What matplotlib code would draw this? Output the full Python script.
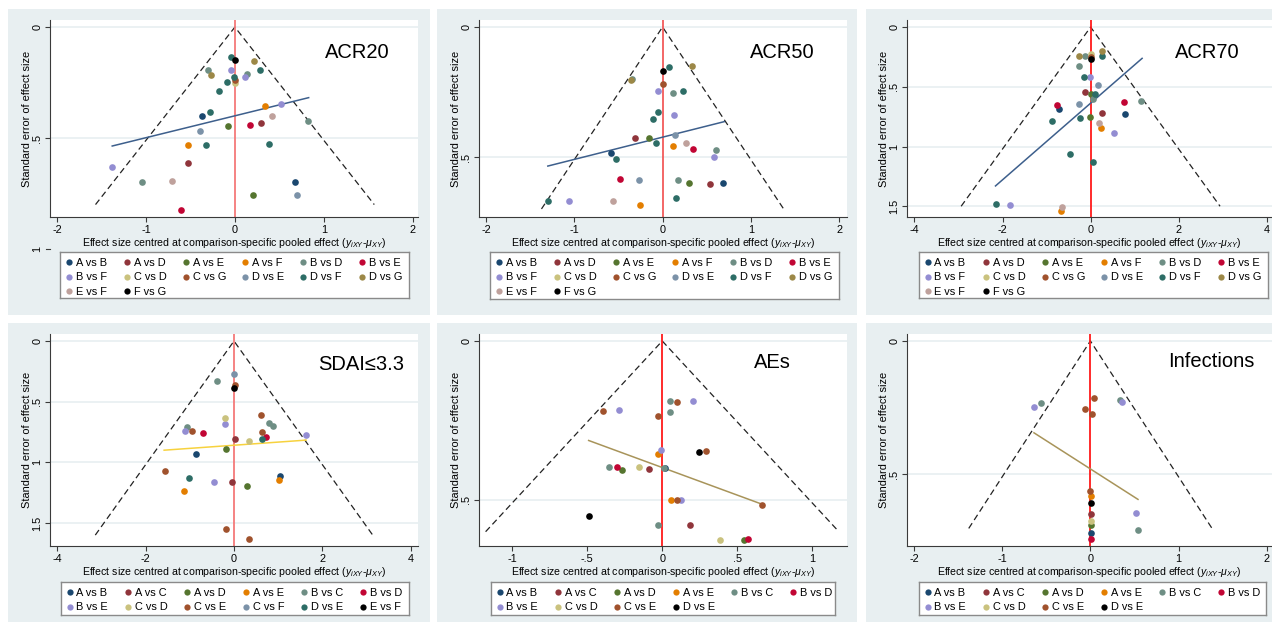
import matplotlib.pyplot as plt

plt.rcParams['font.family'] = ['Liberation Sans', 'DejaVu Sans']
plt.rcParams['axes.unicode_minus'] = False
plt.rcParams['mathtext.fontset'] = 'custom'
plt.rcParams['mathtext.it'] = 'Liberation Sans:italic'
plt.rcParams['mathtext.rm'] = 'Liberation Sans'

W, H = 1272, 624
BG = '#e8eff1'
palette = ['#1a476f', '#90353b', '#55752f', '#e37e00', '#6e8e84', '#c10534',
           '#938dd2', '#cac27e', '#a0522d', '#7b92a8', '#2d6d66', '#9c8847',
           '#bfa19c']

# ---------------- data ----------------
legend_14 = ['A vs B', 'A vs D', 'A vs E', 'A vs F', 'B vs D', 'B vs E', 'B vs F',
             'C vs D', 'C vs G', 'D vs E', 'D vs F', 'D vs G', 'E vs F', 'F vs G']
legend_12 = ['A vs B', 'A vs C', 'A vs D', 'A vs E', 'B vs C', 'B vs D', 'B vs E',
             'C vs D', 'C vs E', 'C vs F', 'D vs E', 'E vs F']
legend_10 = ['A vs B', 'A vs C', 'A vs D', 'A vs E', 'B vs C', 'B vs D', 'B vs E',
             'C vs D', 'C vs E', 'D vs E']

acr20_comp = ['D vs F', 'F vs G', 'D vs G', 'B vs D', 'D vs G', 'B vs F', 'D vs F',
              'B vs D', 'B vs F', 'D vs F', 'C vs G', 'C vs D', 'D vs F', 'D vs F',
              'A vs F', 'B vs F', 'D vs F', 'A vs B', 'E vs F', 'B vs E', 'A vs D',
              'A vs E', 'B vs D', 'D vs E', 'A vs F', 'D vs F', 'D vs F', 'B vs F',
              'A vs D', 'B vs D', 'E vs F', 'A vs B', 'A vs E', 'D vs E', 'B vs E']
acr20_x = [-0.045, 0.0, 0.214, -0.30, -0.267, -0.04, 0.28, 0.139, 0.116, -0.008,
           0.0, 0.0, -0.094, -0.184, 0.334, 0.522, -0.285, -0.375, 0.42, 0.169,
           0.289, -0.075, 0.826, -0.387, -0.522, -0.327, 0.379, -1.378, -0.526,
           -1.04, -0.709, 0.676, 0.199, 0.702, -0.608]
acr20_se = [0.135, 0.147, 0.152, 0.195, 0.215, 0.195, 0.192, 0.213, 0.227, 0.227,
            0.240, 0.252, 0.249, 0.290, 0.354, 0.347, 0.381, 0.402, 0.401, 0.441,
            0.432, 0.447, 0.423, 0.468, 0.533, 0.533, 0.527, 0.629, 0.613, 0.698,
            0.692, 0.698, 0.755, 0.755, 0.826]
acr20_fit_x = [-1.38, 0.83]
acr20_fit_se = [0.536, 0.318]

acr50_comp = ['D vs F', 'F vs G', 'D vs G', 'B vs D', 'D vs G', 'C vs G', 'B vs F',
              'B vs D', 'D vs F', 'D vs F', 'D vs F', 'B vs F', 'D vs E', 'A vs D',
              'A vs E', 'D vs F', 'A vs F', 'E vs F', 'B vs E', 'B vs D', 'B vs F',
              'A vs B', 'D vs F', 'B vs E', 'D vs E', 'B vs D', 'A vs E', 'A vs D',
              'A vs B', 'D vs F', 'B vs F', 'E vs F', 'A vs F', 'D vs F']
acr50_x = [0.068, 0.004, 0.332, -0.343, -0.355, 0.0, -0.053, 0.121, 0.226, -0.053,
           -0.113, 0.125, 0.136, -0.317, -0.151, -0.075, 0.117, 0.264, 0.343, 0.60,
           0.585, -0.589, -0.532, -0.483, -0.264, 0.177, 0.302, 0.536, 0.687,
           -1.298, -1.06, -0.562, -0.253, 0.155]
acr50_se = [0.154, 0.169, 0.149, 0.201, 0.204, 0.218, 0.245, 0.254, 0.246, 0.328,
            0.354, 0.340, 0.414, 0.428, 0.427, 0.446, 0.459, 0.445, 0.471, 0.472,
            0.499, 0.483, 0.509, 0.583, 0.587, 0.587, 0.600, 0.603, 0.600, 0.669,
            0.668, 0.668, 0.683, 0.659]
acr50_fit_x = [-1.30, 0.70]
acr50_fit_se = [0.535, 0.364]

acr70_comp = ['D vs G', 'B vs D', 'C vs D', 'C vs G', 'F vs G', 'D vs G', 'D vs F',
              'B vs D', 'D vs F', 'B vs F', 'D vs E', 'A vs D', 'A vs E', 'D vs F',
              'B vs D', 'B vs D', 'B vs E', 'B vs E', 'A vs B', 'D vs E', 'A vs D',
              'A vs B', 'A vs E', 'D vs F', 'D vs F', 'E vs F', 'A vs F', 'B vs F',
              'D vs F', 'D vs F', 'D vs F', 'B vs F', 'E vs F', 'A vs F']
acr70_x = [-0.272, -0.121, 0.0, 0.0, 0.015, 0.264, 0.249, -0.264, -0.151, -0.008,
           0.158, -0.128, 0.008, 0.098, 0.06, 1.147, 0.755, -0.755, -0.709, -0.257,
           0.257, 0.777, -0.008, -0.242, -0.883, 0.196, 0.226, 0.536, -0.475,
           0.045, -2.15, -1.826, -0.649, -0.672]
acr70_se = [0.240, 0.243, 0.226, 0.250, 0.268, 0.204, 0.246, 0.330, 0.422, 0.422,
            0.486, 0.547, 0.564, 0.561, 0.600, 0.615, 0.631, 0.654, 0.682, 0.642,
            0.718, 0.726, 0.754, 0.765, 0.788, 0.799, 0.841, 0.885, 1.064, 1.131,
            1.483, 1.486, 1.503, 1.536]
acr70_fit_x = [-2.16, 1.17]
acr70_fit_se = [1.33, 0.262]

sdai_comp = ['C vs F', 'B vs C', 'C vs E', 'E vs F', 'C vs E', 'C vs D', 'B vs C',
             'B vs C', 'B vs E', 'B vs C', 'B vs E', 'C vs E', 'B vs D', 'C vs E',
             'B vs D', 'D vs E', 'A vs C', 'C vs D', 'B vs E', 'A vs D', 'A vs B',
             'C vs E', 'D vs E', 'B vs E', 'A vs C', 'A vs D', 'A vs B', 'A vs E',
             'A vs E', 'C vs E', 'C vs E']
sdai_x = [0.0, -0.377, 0.015, -0.008, 0.619, -0.204, 0.785, 0.89, -0.204, -1.064,
          -1.10, -0.943, -0.694, 0.642, 0.717, 0.642, 0.015, 0.332, 1.623, -0.174,
          -0.853, -1.57, -1.026, -0.445, -0.053, 0.294, 1.042, 1.011, -1.132,
          -0.174, 0.347]
sdai_se = [0.272, 0.327, 0.363, 0.387, 0.610, 0.637, 0.676, 0.698, 0.687, 0.706,
           0.745, 0.745, 0.761, 0.753, 0.788, 0.808, 0.808, 0.821, 0.772, 0.887,
           0.934, 1.069, 1.129, 1.165, 1.159, 1.192, 1.113, 1.146, 1.236, 1.549,
           1.635]
sdai_fit_x = [-1.58, 1.63]
sdai_fit_se = [0.90, 0.817]

aes_comp = ['B vs C', 'C vs E', 'B vs E', 'C vs E', 'B vs E', 'C vs E', 'B vs C',
            'B vs E', 'A vs E', 'D vs E', 'C vs E', 'B vs C', 'B vs D', 'A vs D',
            'C vs D', 'A vs C', 'B vs C', 'A vs B', 'A vs E', 'C vs E', 'B vs E',
            'C vs E', 'D vs E', 'B vs C', 'A vs C', 'C vs D', 'A vs D', 'B vs D']
aes_x = [0.051, 0.095, 0.206, -0.397, -0.286, -0.027, 0.049, -0.011, -0.027,
         0.242, 0.288, -0.357, -0.299, -0.268, -0.155, -0.089, 0.012, 0.018,
         0.055, 0.098, 0.124, 0.667, -0.49, -0.031, 0.186, 0.386, 0.545, 0.57]
aes_se = [0.189, 0.191, 0.189, 0.220, 0.217, 0.237, 0.223, 0.344, 0.355, 0.348,
          0.346, 0.395, 0.396, 0.405, 0.398, 0.404, 0.399, 0.401, 0.500, 0.500,
          0.499, 0.516, 0.551, 0.579, 0.580, 0.625, 0.625, 0.623]
aes_fit_x = [-0.49, 0.667]
aes_fit_se = [0.313, 0.514]

inf_comp = ['B vs C', 'B vs E', 'C vs E', 'B vs C', 'B vs E', 'C vs E', 'C vs E',
            'C vs E', 'A vs E', 'D vs E', 'A vs C', 'C vs D', 'A vs D', 'A vs B',
            'B vs D', 'B vs E', 'B vs C']
inf_x = [-0.558, -0.634, 0.045, 0.332, 0.362, -0.057, 0.019, -0.008, 0.004, 0.008,
         0.008, 0.008, 0.008, 0.008, 0.008, 0.517, 0.54]
inf_se = [0.233, 0.248, 0.215, 0.221, 0.230, 0.255, 0.273, 0.565, 0.583, 0.609,
          0.651, 0.676, 0.690, 0.723, 0.744, 0.646, 0.709]
inf_fit_x = [-0.64, 0.54]
inf_fit_se = [0.345, 0.595]

# ---------------- helpers ----------------
fig = plt.figure(figsize=(W / 100, H / 100), dpi=100)
fig.patch.set_facecolor('white')


def px_axes(x0, y0, x1, y1, **kw):
    return fig.add_axes([x0 / W, 1 - y1 / H, (x1 - x0) / W, (y1 - y0) / H], **kw)


def fmt(v):
    s = ('%g' % v)
    return s.replace('0.', '.') if abs(v) < 1 and v != 0 else s


def legend_box(x0, y0, x1, y1, comps, colors):
    lax = px_axes(x0, y0, x1, y1)
    lax.set_xlim(0, x1 - x0)
    lax.set_ylim(y1 - y0, 0)
    lax.set_xticks([])
    lax.set_yticks([])
    for s in lax.spines.values():
        s.set_color('#8a8a8a')
        s.set_linewidth(1.0)
    for i, c in enumerate(comps):
        r, k = divmod(i, 6)
        mx, my = 8.5 + 58.7 * k, 10 + 14.5 * r
        lax.plot(mx, my, 'o', ms=4.5, color=colors[i], mec='none', clip_on=False)
        lax.text(mx + 7, my + 0.5, c, fontsize=7.9, va='center', ha='left')


def panel(bg, box, leg, xlim, ylim, xticks, yticks, se_max, legend, comp, xs, ses,
          fit_x, fit_se, fit_color, vcolor, title, title_xy):
    bgx0, bgy0, bgx1, bgy1 = bg
    fig.patches.append(plt.Rectangle((bgx0 / W, 1 - bgy1 / H), (bgx1 - bgx0) / W,
                                     (bgy1 - bgy0) / H, transform=fig.transFigure,
                                     facecolor=BG, edgecolor='none', zorder=-5))
    ax = px_axes(*box)
    ax.set_facecolor('white')
    ax.set_xlim(*xlim)
    ax.set_ylim(*ylim)
    for s in ['top', 'right']:
        ax.spines[s].set_visible(False)
    for s in ['left', 'bottom']:
        ax.spines[s].set_color('#3a3a3a')
        ax.spines[s].set_linewidth(0.8)
    ax.set_xticks(xticks)
    ax.set_xticklabels([fmt(v) for v in xticks])
    ax.set_yticks(yticks)
    ax.set_yticklabels([fmt(v) for v in yticks], rotation=90, va='center')
    ax.tick_params(length=3.5, width=0.8, color='#3a3a3a', labelsize=7.8, pad=2)
    for t in yticks:
        ax.axhline(t, color=BG, lw=1.2, zorder=0)

    # funnel limits
    ax.plot([-1.96 * se_max, 0, 1.96 * se_max], [se_max, 0, se_max],
            color='#222222', lw=0.9, ls=(0, (5, 3)), zorder=2)
    ax.axvline(0, color=vcolor, lw=1.3, zorder=2)
    ax.plot(fit_x, fit_se, color=fit_color, lw=1.1, zorder=3)

    colors = palette[:len(legend) - 1] + ['black']
    for i, c in enumerate(legend):
        px = [x for x, k in zip(xs, comp) if k == c]
        py = [y for y, k in zip(ses, comp) if k == c]
        ax.plot(px, py, 'o', ms=4.8, color=colors[i], mec='none', zorder=4 + i * 0.01,
                clip_on=False)

    ax.set_xlabel(r'Effect size centred at comparison-specific pooled effect '
                  r'($y_{iXY}$-$\mu_{XY}$)', fontsize=7.6, labelpad=1)
    ax.set_ylabel('Standard error of effect size', fontsize=7.9, labelpad=0.5)
    fig.text(title_xy[0] / W, 1 - title_xy[1] / H, title, fontsize=14.5,
             ha='left', va='center')
    legend_box(*leg, legend, colors)
    return ax


ax1 = panel((8, 9, 430, 315), (50, 20, 418, 217), (60, 252, 409, 298),
            (-2.08, 2.06), (0.856, -0.032), [-2, -1, 0, 1, 2], [0, 0.5], 0.80,
            legend_14, acr20_comp, acr20_x, acr20_se, acr20_fit_x, acr20_fit_se,
            '#3d5f8c', '#f47a7a', 'ACR20', (325, 52))
# stray "1" label of the y axis that sits below the plot region
tr = ax1.get_yaxis_transform()
ax1.plot([-0.011, 0], [1, 1], transform=tr, clip_on=False, color='#3a3a3a', lw=0.8)
ax1.text(-0.034, 1.0, '1', transform=tr, rotation=90, ha='center', va='center',
         fontsize=7.8)

panel((437, 9, 857, 315), (479, 20, 847, 217), (490, 252, 839, 299),
      (-2.08, 2.09), (0.731, -0.027), [-2, -1, 0, 1, 2], [0, 0.5], 0.70,
      legend_14, acr50_comp, acr50_x, acr50_se, acr50_fit_x, acr50_fit_se,
      '#3d5f8c', '#f25a5a', 'ACR50', (750, 52))

panel((866, 9, 1272, 315), (907, 20, 1272, 217), (919, 252, 1268, 298),
      (-4.17, 4.12), (1.59, -0.059), [-4, -2, 0, 2, 4], [0, 0.5, 1, 1.5], 1.50,
      legend_14, acr70_comp, acr70_x, acr70_se, acr70_fit_x, acr70_fit_se,
      '#3d5f8c', '#ff1a1a', 'ACR70', (1175, 52))

panel((8, 323, 430, 622), (50, 334, 418, 546), (61, 582, 409, 615),
      (-4.16, 4.16), (1.69, -0.058), [-4, -2, 0, 2, 4], [0, 0.5, 1, 1.5], 1.60,
      legend_12, sdai_comp, sdai_x, sdai_se, sdai_fit_x, sdai_fit_se,
      '#f7d23e', '#f47a7a', 'SDAI\u22643.3', (318, 365))

panel((437, 323, 857, 622), (479, 334, 847, 546), (491, 582, 835, 615),
      (-1.22, 1.23), (0.645, -0.022), [-1, -0.5, 0, 0.5, 1], [0, 0.5], 0.60,
      legend_10, aes_comp, aes_x, aes_se, aes_fit_x, aes_fit_se,
      '#a8945a', '#ff1a1a', 'AEs', (754, 363))

panel((866, 323, 1272, 622), (907, 334, 1272, 546), (919, 582, 1266, 615),
      (-2.08, 2.06), (0.77, -0.026), [-2, -1, 0, 1, 2], [0, 0.5], 0.704,
      legend_10, inf_comp, inf_x, inf_se, inf_fit_x, inf_fit_se,
      '#a8945a', '#ff1a1a', 'Infections', (1168, 361))

fig.savefig('out.png', dpi=100)
